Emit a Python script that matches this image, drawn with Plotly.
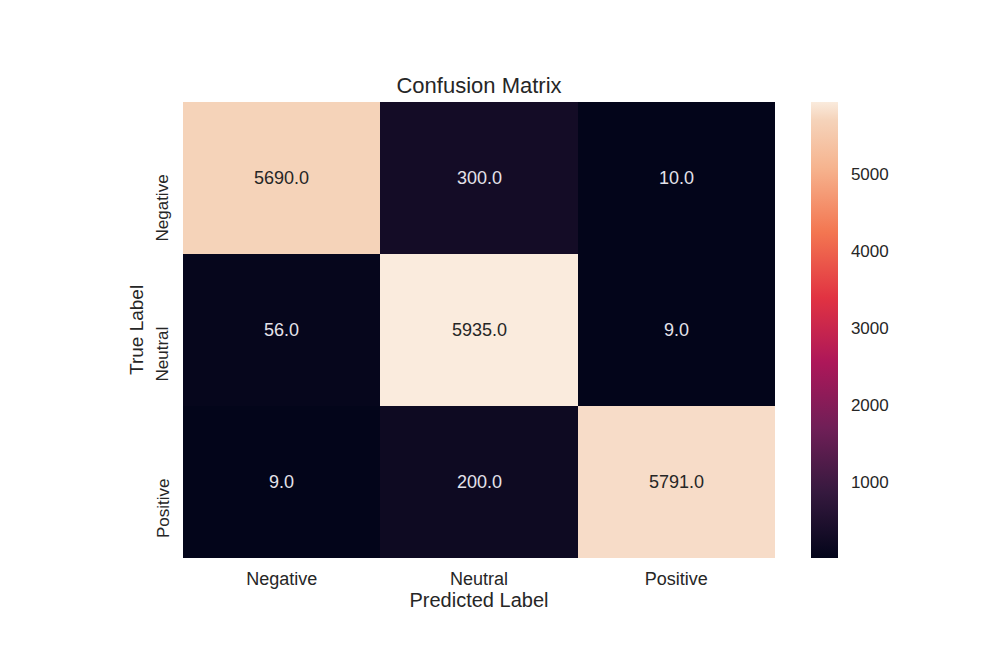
import plotly.graph_objects as go

labels = ["Negative", "Neutral", "Positive"]
matrix = [
    [5690.0, 300.0, 10.0],
    [56.0, 5935.0, 9.0],
    [9.0, 200.0, 5791.0],
]
cbar_ticks = [1000, 2000, 3000, 4000, 5000]

rocket = [
    [0.0, "#03051a"],
    [0.143, "#35193e"],
    [0.286, "#701f57"],
    [0.429, "#ad1759"],
    [0.571, "#e13342"],
    [0.714, "#f37651"],
    [0.857, "#f6b48f"],
    [0.96, "#f5d3ba"],
    [1.0, "#faebdd"],
]

flat = [v for row in matrix for v in row]
zmin, zmax = min(flat), max(flat)
font = "Liberation Sans, Arial, sans-serif"
txt = "#262626"

fig = go.Figure(go.Heatmap(
    z=matrix, x=labels, y=labels, colorscale=rocket, zmin=zmin, zmax=zmax,
    xgap=0, ygap=0,
    colorbar=dict(
        thickness=27, thicknessmode="pixels", len=1, lenmode="fraction",
        x=1.0608, xanchor="left", xpad=0, y=0.5, yanchor="middle", ypad=0,
        outlinewidth=0, tickvals=cbar_ticks, ticks="outside", ticklen=10,
        tickcolor="rgba(0,0,0,0)", tickfont=dict(family=font, size=17, color=txt),
    ),
    hoverinfo="z",
))

annotations = []
for i, yl in enumerate(labels):
    for j, xl in enumerate(labels):
        v = matrix[i][j]
        frac = (v - zmin) / (zmax - zmin)
        annotations.append(dict(
            x=xl, y=yl, xref="x", yref="y", text=f"{v:.1f}", showarrow=False,
            font=dict(family=font, size=18, color=txt if frac > 0.6 else "#e4e2ea"),
        ))
    annotations.append(dict(
        x=-0.0338, xref="paper", xanchor="center", y=yl, yref="y", yanchor="top",
        yshift=6, text=yl, textangle=-90, showarrow=False,
        font=dict(family=font, size=17, color=txt),
    ))
annotations.append(dict(
    x=-0.0794, xref="paper", xanchor="center", y=0.5, yref="paper", yanchor="middle",
    text="True Label", textangle=-90, showarrow=False,
    font=dict(family=font, size=19, color=txt),
))

fig.update_layout(
    width=1000, height=666,
    margin=dict(l=175, r=233, t=94, b=116),
    paper_bgcolor="white", plot_bgcolor="white",
    title=dict(text="Confusion Matrix", x=0.5, xref="paper", y=1 - 77 / 666,
               yref="container", xanchor="center", yanchor="middle",
               font=dict(family=font, size=22, color=txt)),
    xaxis=dict(showgrid=False, zeroline=False, showline=False, ticks="",
               ticklabelstandoff=8,
               tickfont=dict(family=font, size=18, color=txt),
               title=dict(text="Predicted Label", standoff=4,
                          font=dict(family=font, size=20, color=txt))),
    yaxis=dict(showgrid=False, zeroline=False, showline=False, ticks="",
               autorange="reversed", showticklabels=False),
    annotations=annotations,
)

fig.write_html("out.html")
